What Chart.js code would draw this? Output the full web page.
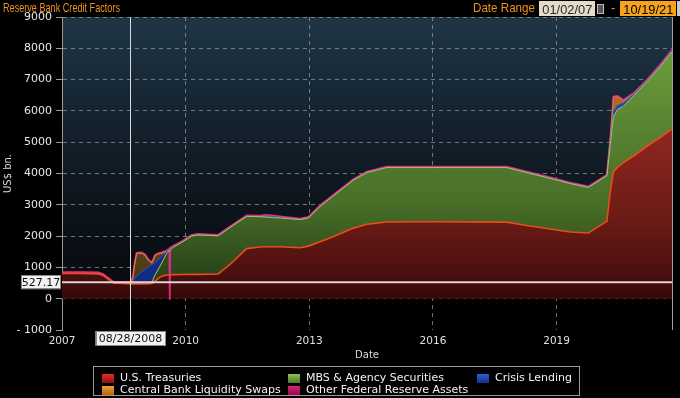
<!DOCTYPE html>
<html><head><meta charset="utf-8">
<script src="https://cdn.jsdelivr.net/npm/chart.js@4.4.0/dist/chart.umd.min.js"></script>
<style>
html,body{margin:0;padding:0;background:#000;}
#wrap{position:relative;width:680px;height:398px;overflow:hidden;background:#000;font-family:"DejaVu Sans",sans-serif;}
canvas{position:absolute;left:0;top:0;}
.hdr{position:absolute;white-space:nowrap;transform-origin:0 50%;line-height:16px;height:16px;font-family:"Liberation Sans",Arial,sans-serif;}
.box{position:absolute;top:1px;height:15px;line-height:15px;text-align:center;overflow:hidden;}
.box span{display:inline-block;transform-origin:50% 50%;font-family:"Liberation Sans",Arial,sans-serif;font-size:13px;}
#legend{position:absolute;left:93px;top:366px;width:487px;height:30px;border:1px solid #9a9a9a;box-sizing:border-box;}
.sw{position:absolute;width:12px;height:9px;}
.lt{position:absolute;font-size:11px;line-height:14px;color:#f2f2f2;white-space:nowrap;font-family:"DejaVu Sans",sans-serif;}
</style></head>
<body><div id="wrap">
<canvas id="c" width="680" height="398"></canvas>
<div id="title" class="hdr" style="left:3px;top:0;color:#f0921e;font-size:13px;">Reserve Bank Credit Factors</div>
<div id="dr" class="hdr" style="left:473px;top:0;color:#f0921e;font-size:13px;">Date Range</div>
<div class="box" style="left:539px;width:56px;background:#e4dcc6;color:#2a2a2a;"><span id="d1">01/02/07</span></div>
<div style="position:absolute;left:597px;top:4px;width:5px;height:8px;border:1px solid #bdbdbd;background:#555;"></div>
<div class="hdr" style="left:611px;top:0;color:#f0921e;font-size:13px;">-</div>
<div class="box" style="left:620px;width:56px;background:#f6a21c;color:#000;"><span id="d2">10/19/21</span></div>
<div style="position:absolute;left:677px;top:1px;width:3px;height:15px;background:#c8c8c8;"></div>
<div id="legend"></div>
</div>
<script>
// ---- data (decimal years, US$ bn.) ----
const dates = [
  2007.00, 2007.50, 2007.88, 2008.00, 2008.12, 2008.25, 2008.50, 2008.66, 2008.72, 2008.76,
  2008.81, 2008.93, 2009.01, 2009.10, 2009.18, 2009.26, 2009.34, 2009.42, 2009.54, 2009.605,
  2009.615, 2009.625, 2009.70, 2009.90, 2010.15, 2010.30, 2010.79, 2011.08, 2011.48, 2011.80,
  2011.95, 2012.10, 2012.29, 2012.78, 2012.98, 2013.26, 2013.59, 2014.07, 2014.40, 2014.88,
  2016.01, 2017.79, 2018.28, 2018.92, 2019.33, 2019.77, 2020.22, 2020.30, 2020.38, 2020.48,
  2020.62, 2020.87, 2021.19, 2021.51, 2021.80
];
const treasuries = [
  805, 805, 800, 745, 630, 505, 485, 478, 476, 476,
  476, 478, 480, 480, 490, 560, 650, 720, 755, 762,
  763, 764, 770, 775, 777, 777, 790, 1100, 1600, 1650,
  1660, 1660, 1660, 1630, 1680, 1820, 1990, 2255, 2380, 2450,
  2460, 2445, 2340, 2210, 2130, 2100, 2470, 3400, 4050, 4200,
  4350, 4560, 4870, 5150, 5420
];
const mbsAgency = [
  0, 0, 0, 0, 0, 0, 0, 0, 0, 0,
  0, 0, 0, 0, 40, 206, 300, 420, 705, 770,
  780, 790, 870, 1020, 1230, 1260, 1220, 1180, 1030, 970,
  950, 930, 920, 900, 900, 1130, 1300, 1535, 1650, 1740,
  1730, 1745, 1690, 1610, 1550, 1455, 1460, 1500, 1770, 1850,
  1800, 1930, 2050, 2260, 2470
];
const crisisLending = [
  0, 0, 0, 0, 0, 0, 10, 15, 90, 160,
  244, 382, 445, 550, 560, 394, 305, 210, 50, 44,
  42, 40, 20, 5, 0, 0, 0, 0, 0, 0,
  40, 40, 20, 0, 0, 0, 0, 0, 0, 0,
  0, 0, 0, 0, 0, 0, 0, 50, 160, 130,
  100, 50, 40, 30, 30
];
const liquiditySwaps = [
  0, 0, 0, 0, 0, 0, 0, 0, 100, 450,
  716, 590, 470, 185, 40, 210, 175, 100, 0, 0,
  0, 0, 0, 0, 0, 0, 0, 0, 0, 0,
  0, 0, 0, 0, 0, 0, 0, 0, 0, 0,
  0, 0, 0, 0, 0, 0, 0, 100, 450, 270,
  70, 0, 0, 0, 0
];
const otherAssets = [
  45, 45, 40, 40, 35, 30, 30, 34, 30, 30,
  30, 30, 30, 30, 30, 30, 30, 30, 30, 30,
  -1615, 30, 30, 30, 30, 30, 30, 30, 30, 30,
  30, 30, 30, 30, 30, 30, 30, 30, 30, 30,
  30, 30, 30, 30, 30, 30, 30, 30, 30, 30,
  30, 30, 30, 30, 30
];
const seriesNames = ['U.S. Treasuries', 'MBS & Agency Securities', 'Crisis Lending', 'Central Bank Liquidity Swaps', 'Other Federal Reserve Assets'];
const xTickYears = [2007, 2010, 2013, 2016, 2019];
const yTickValues = [-1000, 0, 1000, 2000, 3000, 4000, 5000, 6000, 7000, 8000, 9000];
const crosshairDate = 2008.655;
const crosshairDateLabel = '08/28/2008';
const crosshairValue = 527.17;

// ---- styling ----
const redStops = [[0,'#a83428'],[0.44,'#8a2520'],[0.73,'#6a1a14'],[0.91,'#4a1010'],[1,'#360808']];
const greenStops = [[0,'#70a040'],[0.15,'#6a9a3a'],[0.44,'#557f30'],[0.65,'#4a7028'],[0.88,'#2e4a1c'],[1,'#22381a']];
const blueStops = [[0,'#2a50c0'],[1,'#10287a']];
const orangeStops = [[0,'#c87a26'],[0.4,'#a86420'],[0.8,'#5e4418'],[1,'#3e3012']];
const bgStops = [[0,'#1f3646'],[0.25,'#172836'],[0.5,'#111c26'],[0.75,'#0b1118'],[1,'#07090c']];

function vGrad(chart, stops) {
  const a = chart.chartArea;
  const y0 = chart.scales.y.getPixelForValue(0);
  const g = chart.ctx.createLinearGradient(0, a.top, 0, y0);
  stops.forEach(s => g.addColorStop(s[0], s[1]));
  return g;
}
function gradFill(stops, fallback) {
  return ctx => (ctx.chart.chartArea ? vGrad(ctx.chart, stops) : fallback);
}
const pts = arr => dates.map((d, i) => ({x: d, y: arr[i]}));

const bgPlugin = {
  id: 'bgPlugin',
  beforeDraw(chart) {
    const {ctx, chartArea: a} = chart;
    ctx.save();
    ctx.fillStyle = '#000';
    ctx.fillRect(0, 0, chart.width, chart.height);
    const y0 = chart.scales.y.getPixelForValue(0);
    ctx.fillStyle = vGrad(chart, bgStops);
    ctx.fillRect(a.left, a.top, a.right - a.left, y0 - a.top);
    ctx.restore();
  }
};
function labelBox(ctx, text, cx, cy, w, h) {
  ctx.fillStyle = '#f2f2f2';
  ctx.fillRect(cx - w / 2, cy - h / 2, w, h);
  ctx.strokeStyle = '#8a8a8a';
  ctx.lineWidth = 1;
  ctx.strokeRect(Math.round(cx - w / 2) + 0.5, Math.round(cy - h / 2) + 0.5, w - 1, h - 1);
  ctx.fillStyle = '#111';
  ctx.font = '11px "DejaVu Sans"';
  ctx.textAlign = 'center';
  ctx.textBaseline = 'middle';
  ctx.fillText(text, cx, cy + 0.5);
}
const overlayPlugin = {
  id: 'overlayPlugin',
  afterDraw(chart) {
    const {ctx, chartArea: a, scales: {x, y}} = chart;
    ctx.save();
    ctx.strokeStyle = '#a0a0a0';
    ctx.lineWidth = 1;
    ctx.beginPath();
    ctx.moveTo(a.right + 0.5, a.top);
    ctx.lineTo(a.right + 0.5, a.bottom);
    ctx.stroke();
    const hy = y.getPixelForValue(crosshairValue);
    ctx.strokeStyle = '#e2d2d6';
    ctx.lineWidth = 2;
    ctx.beginPath();
    ctx.moveTo(a.left, hy);
    ctx.lineTo(a.right, hy);
    ctx.stroke();
    const vx = Math.round(x.getPixelForValue(crosshairDate)) + 0.5;
    ctx.strokeStyle = '#dadada';
    ctx.lineWidth = 1;
    ctx.beginPath();
    ctx.moveTo(vx, a.top);
    ctx.lineTo(vx, a.bottom);
    ctx.stroke();
    labelBox(ctx, crosshairDateLabel, vx, a.bottom + 8.5, 70, 15);
    labelBox(ctx, crosshairValue.toFixed(2), 41, hy, 40, 14);
    ctx.restore();
  }
};

const gridCol = 'rgba(150,150,150,0.75)';
const chart = new Chart(document.getElementById('c'), {
  type: 'line',
  data: {
    datasets: [
      {label: seriesNames[0], data: pts(treasuries), fill: 'origin', borderColor: '#ea4c1c', borderWidth: 1.6, backgroundColor: gradFill(redStops, '#7a1c16')},
      {label: seriesNames[1], data: pts(mbsAgency), fill: '-1', borderColor: '#a9c65a', borderWidth: 1, backgroundColor: gradFill(greenStops, '#4a7028')},
      {label: seriesNames[2], data: pts(crisisLending), fill: '-1', borderColor: '#2f5bd0', borderWidth: 1, backgroundColor: gradFill(blueStops, '#1a3a90')},
      {label: seriesNames[3], data: pts(liquiditySwaps), fill: '-1', borderColor: '#c98a35', borderWidth: 1, backgroundColor: gradFill(orangeStops, '#8a5a20')},
      {label: seriesNames[4], data: pts(otherAssets), fill: '-1', borderColor: '#e8288a', borderWidth: 1.8, backgroundColor: '#c8187a'}
    ]
  },
  options: {
    responsive: false,
    devicePixelRatio: 1,
    animation: false,
    elements: {point: {radius: 0, hoverRadius: 0}, line: {tension: 0}},
    layout: {padding: {left: 0, right: 8, top: 17, bottom: 0}},
    plugins: {
      legend: {display: false},
      tooltip: {enabled: false},
      filler: {drawTime: 'beforeDatasetsDraw'}
    },
    scales: {
      x: {
        type: 'linear', min: 2007, max: 2021.8, z: 1,
        afterBuildTicks: s => { s.ticks = xTickYears.map(v => ({value: v})); },
        afterFit: s => { s.height = 68; },
        ticks: {color: '#e0e0e0', font: {family: 'DejaVu Sans', size: 10.5}, padding: 5, maxRotation: 0, autoSkip: false, callback: v => String(v)},
        grid: {color: c => (c.tick && c.tick.value === 2007 ? 'rgba(0,0,0,0)' : gridCol), lineWidth: 1, drawTicks: false},
        border: {display: false, dash: [4, 4]},
        title: {display: true, text: 'Date', color: '#dcdcdc', font: {family: 'DejaVu Sans', size: 10}, padding: {top: 0, bottom: 37}}
      },
      y: {
        type: 'linear', min: -1000, max: 9000, stacked: 'single', z: 1,
        afterBuildTicks: s => { s.ticks = yTickValues.map(v => ({value: v})); },
        afterFit: s => { s.width = 62; },
        ticks: {color: '#e6e6e6', font: {family: 'DejaVu Sans', size: 11}, padding: 4, callback: v => (v < 0 ? '- ' + Math.abs(v) : String(v))},
        grid: {color: c => (c.tick && c.tick.value === -1000 ? 'rgba(0,0,0,0)' : gridCol), tickColor: '#9a9a9a', tickLength: 6, lineWidth: 1},
        border: {display: true, color: '#9a9a9a', width: 1, dash: [4, 4]},
        title: {display: true, text: 'US$ bn.', color: '#dcdcdc', font: {family: 'DejaVu Sans', size: 10}, padding: {top: 2, bottom: 0}}
      }
    }
  },
  plugins: [bgPlugin, overlayPlugin]
});

// ---- HTML legend built from chart datasets ----
const swatchGrads = [
  'linear-gradient(#e03020,#901010)',
  'linear-gradient(#90c050,#507a28)',
  'linear-gradient(#3060d0,#10308a)',
  'linear-gradient(#f0a030,#b86010)',
  'linear-gradient(#e02080,#900a50)'
];
const legendSlots = [[101, 0], [287, 0], [476, 0], [101, 1], [287, 1]];
const lg = document.getElementById('legend');
chart.data.datasets.forEach((ds, i) => {
  const [sx, row] = legendSlots[i];
  const cy = row === 0 ? 377 : 389;
  const sw = document.createElement('div');
  sw.className = 'sw';
  sw.style.left = (sx - 93) + 'px';
  sw.style.top = (cy - 4 - 366) + 'px';
  sw.style.background = swatchGrads[i];
  lg.appendChild(sw);
  const t = document.createElement('div');
  t.className = 'lt';
  t.style.left = (sx + 18 - 93) + 'px';
  t.style.top = (cy - 7 - 366) + 'px';
  t.textContent = ds.label;
  lg.appendChild(t);
});

// fit header texts to reference widths
function fitW(el, w) {
  const cur = el.getBoundingClientRect().width;
  if (cur > 0) el.style.transform = 'scaleX(' + (w / cur) + ')';
}
fitW(document.getElementById('title'), 117);
fitW(document.getElementById('dr'), 62);
fitW(document.getElementById('d1'), 50);
fitW(document.getElementById('d2'), 50);
</script>
</body></html>
